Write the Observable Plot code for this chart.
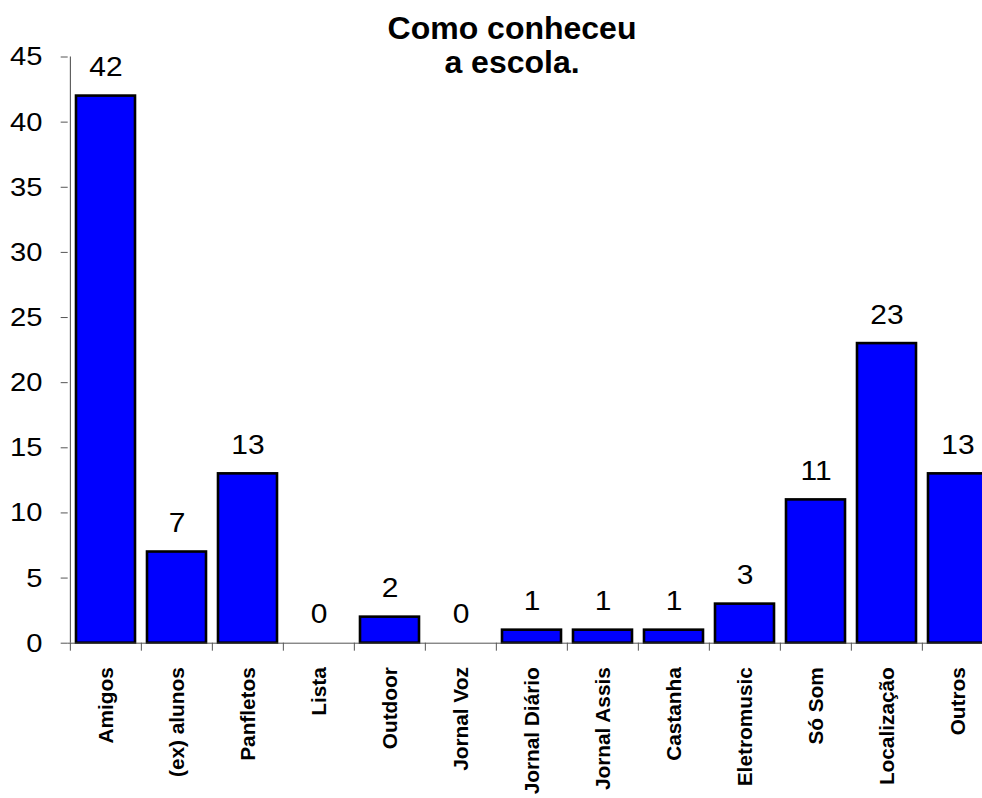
<!DOCTYPE html>
<html>
<head>
<meta charset="utf-8">
<script src="https://cdn.jsdelivr.net/npm/d3@7"></script>
<script src="https://cdn.jsdelivr.net/npm/@observablehq/plot@0.6"></script>
<style>
  html, body { margin: 0; padding: 0; background: #fff; overflow: hidden; }
  #wrap { position: relative; width: 982px; height: 798px; }
  #title {
    position: absolute; left: 0; top: 11px; width: 1024px;
    text-align: center; color: #000;
    font: bold 32px "Liberation Sans", Arial, sans-serif; line-height: 34px;
  }
  #wrap svg { overflow: hidden; }
</style>
</head>
<body>
<div id="wrap">
  <div id="chart"></div>
  <div id="title">Como conheceu<br>a escola.</div>
</div>
<script>
// Como conheceu a escola: número de respostas por canal
const categories = [
  "Amigos", "(ex) alunos", "Panfletos", "Lista", "Outdoor", "Jornal Voz",
  "Jornal Diário", "Jornal Assis", "Castanha", "Eletromusic", "Só Som",
  "Localização", "Outros"
];
const counts = [42, 7, 13, 0, 2, 0, 1, 1, 1, 3, 11, 23, 13];
const yTicks = [0, 5, 10, 15, 20, 25, 30, 35, 40, 45];

const rows = categories.map((categoria, i) => ({ categoria, total: counts[i] }));

// band layout: the last band runs past the right edge of the frame
const left = 67.7;
const step = 71.3;

const chart = Plot.plot({
  width: 982,
  height: 798,
  marginLeft: left,
  marginRight: 0,
  marginTop: 56.5,
  marginBottom: 155.3,
  style: { fontFamily: "'Liberation Sans', Arial, sans-serif", background: "#fff", color: "#000", overflow: "hidden" },
  x: { domain: categories, range: [left, left + step * categories.length], padding: 0, label: null },
  y: { domain: [0, 45], label: null },
  marks: [
    Plot.barY(rows.filter(d => d.total > 0), {
      x: "categoria", y: "total",
      fill: "#0000ff", stroke: "#000", strokeWidth: 2.6,
      insetLeft: 6, insetRight: 6
    }),
    Plot.ruleY([0], { stroke: "#555" }),
    Plot.ruleX([categories[0]], { x: d => d, dx: -step / 2, y1: 0, y2: 45, stroke: "#444" }),
    // y ticks, with their numbers drawn as a separate text mark
    Plot.axisY({ ticks: yTicks, tickSize: 7, tickFormat: () => "", stroke: "#555" }),
    Plot.text(yTicks, {
      y: d => d, text: d => String(d), frameAnchor: "left", textAnchor: "end",
      dx: -25.7, fontSize: 26.5, fill: "#000", className: "ynum"
    }),
    Plot.axisX({ tickSize: 8, tickFormat: () => "", dx: -step / 2, stroke: "#555" }),
    Plot.axisX({ tickSize: 0, tickRotate: -90, tickPadding: 24, fontSize: 20.8, fontWeight: "bold", fill: "#000" }),
    Plot.text(rows, {
      x: "categoria", y: "total", text: d => String(d.total),
      dy: -20, lineAnchor: "bottom", fontSize: 27.5, fill: "#000", className: "valnum"
    })
  ]
});

// numerals are set slightly wide: scale each glyph run horizontally about its anchor
function widen(root, selector, k) {
  for (const t of root.querySelectorAll(selector)) {
    let x = 0, y = 0;
    const xa = t.getAttribute("x"), ya = t.getAttribute("y");
    if (xa !== null && /^-?[\d.]+$/.test(xa)) { x = +xa; t.removeAttribute("x"); }
    if (ya !== null && /^-?[\d.]+$/.test(ya)) { y = +ya; t.removeAttribute("y"); }
    const tr = t.getAttribute("transform") || "";
    t.setAttribute("transform", `${tr} translate(${x},${y}) scale(${k},1)`);
  }
}
widen(chart, ".valnum text", 1.09);
widen(chart, ".ynum text", 1.1);

document.getElementById("chart").appendChild(chart);
</script>
</body>
</html>
